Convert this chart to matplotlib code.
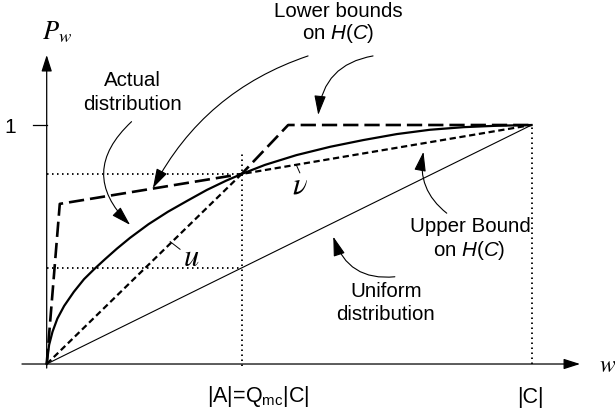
import matplotlib
matplotlib.use("Agg")
import matplotlib.pyplot as plt

plt.rcParams['font.family'] = ['Liberation Sans', 'DejaVu Sans']
plt.rcParams['mathtext.fontset'] = 'custom'
plt.rcParams['mathtext.rm'] = 'Liberation Sans'
plt.rcParams['mathtext.it'] = 'Liberation Sans:italic'
plt.rcParams['lines.scale_dashes'] = False

# x in units of |C|, y is P_w
q_mc = 0.402          # |A| = Q_mc |C|
p_cross = 0.795       # where the curves meet above |A|
a_top = 0.885         # top of the dotted line at |A|

uniform_x = [0, 1]
uniform_y = [0, 1]

upper_x = [0, q_mc, 1]
upper_y = [0, p_cross, 1]

lower_x = [0, 0.027, q_mc, 0.498, 1]
lower_y = [0, 0.67, p_cross, 1, 1]

actual_x = [0, 0.005, 0.012, 0.022, 0.036, 0.056, 0.077, 0.098, 0.12, 0.145,
            0.172, 0.21, 0.25, 0.29, 0.33, 0.37, 0.402, 0.45, 0.515, 0.585,
            0.653, 0.722, 0.79, 0.86, 0.93, 1.0]
actual_y = [0, 0.08, 0.135, 0.19, 0.243, 0.302, 0.355, 0.397, 0.438, 0.483,
            0.528, 0.585, 0.637, 0.683, 0.728, 0.767, 0.795, 0.833, 0.874, 0.909,
            0.937, 0.962, 0.980, 0.991, 0.997, 1.0]

x_ticks = [q_mc, 1]
x_tick_labels = [r'|A|=Q$_{\mathregular{mc}}$|C|', '|C|']

fig = plt.figure(figsize=(6.15, 4.12), dpi=100)
ax = fig.add_axes([0, 0, 1, 1])
ax.set_xlim(-0.0963, 1.172)
ax.set_ylim(-0.2008, 1.523)
ax.axis('off')

# axes with arrow heads
axis_arrow = dict(arrowstyle='-|>,head_length=1.0,head_width=0.32', color='black',
                  lw=0.9, shrinkA=0, shrinkB=0, mutation_scale=10)
ax.annotate('', xy=(1.10, 0), xytext=(-0.051, 0), arrowprops=axis_arrow)
ax.annotate('', xy=(0, 1.293), xytext=(0, -0.017), arrowprops=axis_arrow)
ax.plot([-0.028, 0], [1, 1], color='black', lw=0.9)

# dotted guide lines
dots = (0, (1.1, 2.5))
ax.plot([0, q_mc], [p_cross, p_cross], color='black', lw=1.3, linestyle=dots)
ax.plot([0, q_mc], [q_mc, q_mc], color='black', lw=1.3, linestyle=dots)
ax.plot([q_mc, q_mc], [-0.01, a_top], color='black', lw=1.3, linestyle=dots)
ax.plot([1, 1], [0, 1], color='black', lw=1.3, linestyle=dots)

# curves
ax.plot(uniform_x, uniform_y, color='black', lw=0.8)
ax.plot(upper_x, upper_y, color='black', lw=1.6, linestyle=(0, (4.5, 2.6)))
ax.plot(lower_x, lower_y, color='black', lw=1.9, linestyle=(0, (11, 4.3)),
        solid_joinstyle='miter')
ax.plot(actual_x, actual_y, color='black', lw=1.6)

# tick labels
ax.text(-0.0757, 0.967, '1', fontsize=15, ha='center', va='baseline')
ax.text(0.436, -0.161, x_tick_labels[0], fontsize=15.5, ha='center', va='baseline')
ax.text(0.997, -0.165, x_tick_labels[1], fontsize=15.5, ha='center', va='baseline')

# axis names
ax.text(0.022, 1.388, r'$P_w$', fontsize=19, math_fontfamily='stix',
        ha='center', va='center')
ax.text(1.157, -0.01, r'$w$', fontsize=17, math_fontfamily='stix',
        ha='center', va='center')

# u and v with leaders
ax.plot([0.2546, 0.275], [0.512, 0.480], color='black', lw=0.7)
ax.text(0.299, 0.445, r'$u$', fontsize=22, math_fontfamily='stix', ha='center', va='center')
ax.plot([0.515, 0.522], [0.832, 0.800], color='black', lw=0.7)
ax.text(0.523, 0.745, r'$\nu$', fontsize=22, math_fontfamily='stix', ha='center', va='center')

# labels
fs = 14.8
ax.text(0.1765, 1.163, 'Actual', fontsize=fs, ha='center', va='baseline')
ax.text(0.1765, 1.063, 'distribution', fontsize=fs, ha='center', va='baseline')
ax.text(0.601, 1.453, 'Lower bounds', fontsize=fs, ha='center', va='baseline')
ax.text(0.601, 1.358, r'on $\mathit{H(C)}$', fontsize=fs, ha='center', va='baseline')
ax.text(0.873, 0.554, 'Upper Bound', fontsize=fs, ha='center', va='baseline')
ax.text(0.871, 0.452, r'on $\mathit{H(C)}$', fontsize=fs, ha='center', va='baseline')
ax.text(0.701, 0.282, 'Uniform', fontsize=fs, ha='center', va='baseline')
ax.text(0.699, 0.184, 'distribution', fontsize=fs, ha='center', va='baseline')

# curved pointer arrows: (start, tip, bend)
pointers = [
    ((0.175, 1.014), (0.172, 0.582), 0.52),
    ((0.539, 1.289), (0.219, 0.736), 0.2),
    ((0.673, 1.289), (0.560, 1.042), 0.38),
    ((0.825, 0.631), (0.777, 0.888), -0.3),
    ((0.718, 0.365), (0.591, 0.533), -0.4),
]
for start, tip, rad in pointers:
    ax.annotate('', xy=tip, xytext=start,
                arrowprops=dict(arrowstyle='-|>,head_length=1.0,head_width=0.3',
                                color='black', lw=0.8, shrinkA=0, shrinkB=0,
                                mutation_scale=12,
                                connectionstyle='arc3,rad=%s' % rad))

fig.savefig('out.png', dpi=100)
